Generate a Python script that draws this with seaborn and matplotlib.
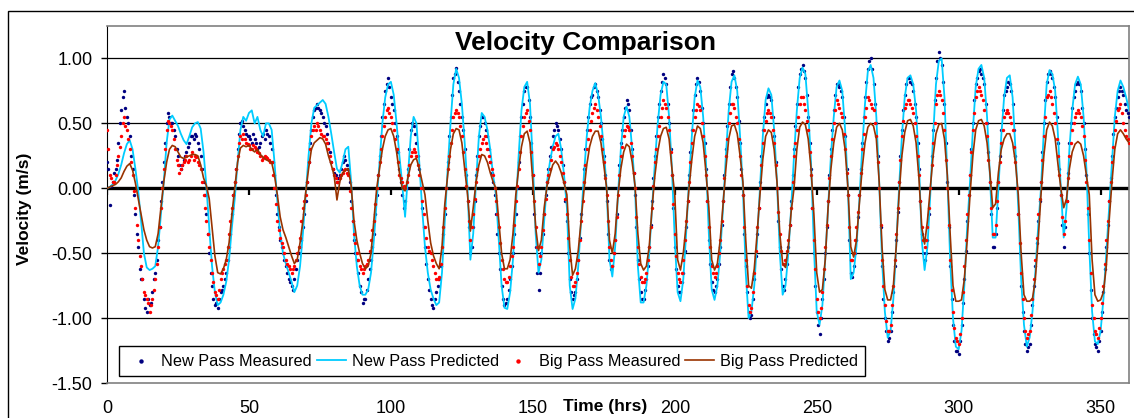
"""Velocity comparison: New Pass vs Big Pass, measured and predicted."""
import matplotlib
matplotlib.use("Agg")
import matplotlib.pyplot as plt
import numpy as np
import pandas as pd
import seaborn as sns
from matplotlib.patches import Rectangle

# hourly samples, 0..360 hrs; measured gauges also logged on the half hour
hours = list(range(0, 361))
half_hours = [h + 0.5 for h in range(0, 360)]

new_pass_measured = [
    0.20, -0.13, 0.05, 0.15, 0.35, 0.60, 0.75, 0.55, 0.40, 0.15,
    -0.20, -0.45, -0.70, -0.85, -0.95, -0.90, -0.80, -0.65, -0.40, -0.10,
    0.20, 0.50, 0.55, 0.50, 0.40, 0.25, 0.15, 0.22, 0.28, 0.35,
    0.40, 0.42, 0.35, 0.25, 0.05, -0.20, -0.50, -0.75, -0.90, -0.92,
    -0.80, -0.75, -0.65, -0.45, -0.20, 0.05, 0.30, 0.50, 0.48, 0.42,
    0.40, 0.35, 0.38, 0.30, 0.35, 0.42, 0.45, 0.40, 0.30, 0.10,
    -0.20, -0.40, -0.50, -0.60, -0.70, -0.75, -0.70, -0.55, -0.45, -0.30,
    -0.10, 0.20, 0.45, 0.60, 0.65, 0.60, 0.55, 0.48, 0.35, 0.20,
    0.12, 0.05, 0.10, 0.20, 0.22, 0.15, -0.10, -0.40, -0.55, -0.75,
    -0.88, -0.85, -0.70, -0.55, -0.35, -0.05, 0.25, 0.55, 0.75, 0.85,
    0.70, 0.60, 0.40, 0.15, -0.05, -0.10, 0.15, 0.45, 0.48, 0.35,
    0.15, -0.15, -0.45, -0.70, -0.85, -0.92, -0.80, -0.70, -0.50, -0.20,
    0.20, 0.55, 0.85, 0.93, 0.75, 0.55, 0.30, -0.10, -0.50, -0.30,
    0.10, 0.40, 0.55, 0.50, 0.40, 0.20, 0.05, -0.20, -0.50, -0.75,
    -0.90, -0.85, -0.70, -0.50, -0.20, 0.20, 0.55, 0.75, 0.78, 0.55,
    0.10, -0.45, -0.78, -0.50, -0.20, 0.05, 0.25, 0.40, 0.50, 0.45,
    0.30, 0.05, -0.25, -0.70, -0.85, -0.80, -0.55, -0.20, 0.15, 0.45,
    0.65, 0.72, 0.80, 0.70, 0.50, 0.25, -0.10, -0.55, -0.60, -0.40,
    0.00, 0.35, 0.55, 0.68, 0.60, 0.30, -0.05, -0.55, -0.80, -0.85,
    -0.70, -0.45, -0.10, 0.25, 0.55, 0.75, 0.88, 0.80, 0.50, 0.10,
    -0.45, -0.75, -0.80, -0.65, -0.30, 0.10, 0.45, 0.72, 0.85, 0.75,
    0.50, 0.15, -0.40, -0.72, -0.80, -0.70, -0.45, -0.10, 0.30, 0.65,
    0.88, 0.85, 0.70, 0.35, -0.05, -0.60, -0.95, -0.98, -0.70, -0.35,
    0.05, 0.45, 0.65, 0.72, 0.68, 0.40, 0.00, -0.45, -0.75, -0.70,
    -0.45, -0.10, 0.30, 0.65, 0.88, 0.95, 0.85, 0.55, 0.15, -0.50,
    -0.95, -1.12, -0.85, -0.50, -0.10, 0.30, 0.60, 0.80, 0.78, 0.70,
    0.40, -0.05, -0.65, -0.60, -0.40, -0.05, 0.35, 0.70, 0.92, 1.00,
    0.80, 0.50, 0.00, -0.60, -1.00, -1.18, -1.10, -0.80, -0.40, 0.05,
    0.45, 0.72, 0.85, 0.82, 0.75, 0.55, 0.15, -0.35, -0.55, -0.40,
    0.00, 0.45, 0.85, 1.05, 0.95, 0.65, 0.05, -0.60, -1.05, -1.25,
    -1.28, -1.05, -0.70, -0.25, 0.10, 0.50, 0.80, 0.90, 0.88, 0.80,
    0.50, 0.05, -0.45, -0.35, 0.05, 0.45, 0.72, 0.78, 0.80, 0.65,
    0.25, -0.20, -0.75, -1.10, -1.25, -1.20, -0.90, -0.60, -0.25, 0.05,
    0.50, 0.82, 0.90, 0.85, 0.70, 0.35, -0.05, -0.45, -0.10, 0.35,
    0.62, 0.75, 0.82, 0.75, 0.50, 0.10, -0.50, -1.00, -1.20, -1.25,
    -1.10, -0.80, -0.45, -0.10, 0.25, 0.55, 0.70, 0.78, 0.72, 0.60,
    0.55,
]

new_pass_measured_half = [
    0.15, 0.02, 0.12, 0.22, 0.50, 0.70, 0.62, 0.50, 0.25, -0.05,
    -0.35, -0.62, -0.70, -0.92, -0.85, -0.88, -0.70, -0.55, -0.30, 0.05,
    0.35, 0.58, 0.50, 0.45, 0.30, 0.18, 0.18, 0.25, 0.32, 0.40,
    0.38, 0.40, 0.30, 0.15, -0.05, -0.35, -0.65, -0.85, -0.88, -0.85,
    -0.78, -0.70, -0.55, -0.35, -0.05, 0.15, 0.42, 0.52, 0.45, 0.40,
    0.38, 0.42, 0.35, 0.32, 0.40, 0.38, 0.42, 0.35, 0.20, -0.05,
    -0.30, -0.45, -0.55, -0.65, -0.72, -0.78, -0.62, -0.50, -0.40, -0.20,
    0.05, 0.35, 0.55, 0.62, 0.62, 0.58, 0.50, 0.42, 0.28, 0.15,
    0.10, 0.08, 0.15, 0.25, 0.18, 0.05, -0.25, -0.50, -0.65, -0.80,
    -0.85, -0.78, -0.62, -0.45, -0.20, 0.10, 0.40, 0.65, 0.80, 0.78,
    0.65, 0.50, 0.28, 0.05, -0.15, 0.00, 0.30, 0.50, 0.42, 0.25,
    0.00, -0.30, -0.58, -0.78, -0.90, -0.85, -0.75, -0.60, -0.35, 0.00,
    0.40, 0.72, 0.88, 0.82, 0.65, 0.45, 0.10, -0.30, -0.45, -0.10,
    0.25, 0.48, 0.55, 0.45, 0.30, 0.12, -0.05, -0.35, -0.62, -0.85,
    -0.88, -0.78, -0.60, -0.35, 0.00, 0.40, 0.65, 0.78, 0.68, 0.35,
    -0.20, -0.65, -0.65, -0.35, -0.05, 0.15, 0.32, 0.45, 0.48, 0.38,
    0.18, -0.10, -0.50, -0.80, -0.82, -0.70, -0.38, 0.00, 0.30, 0.55,
    0.70, 0.78, 0.75, 0.60, 0.38, 0.10, -0.35, -0.62, -0.50, -0.20,
    0.18, 0.45, 0.62, 0.65, 0.45, 0.12, -0.30, -0.70, -0.85, -0.78,
    -0.60, -0.28, 0.08, 0.40, 0.65, 0.82, 0.85, 0.65, 0.30, -0.15,
    -0.62, -0.80, -0.72, -0.48, -0.10, 0.28, 0.60, 0.80, 0.82, 0.62,
    0.35, -0.10, -0.58, -0.78, -0.75, -0.58, -0.28, 0.10, 0.48, 0.78,
    0.90, 0.78, 0.52, 0.15, -0.35, -0.80, -1.00, -0.85, -0.52, -0.15,
    0.25, 0.55, 0.70, 0.70, 0.55, 0.20, -0.25, -0.62, -0.78, -0.58,
    -0.28, 0.10, 0.48, 0.78, 0.92, 0.90, 0.72, 0.35, -0.15, -0.75,
    -1.05, -1.00, -0.70, -0.30, 0.10, 0.45, 0.72, 0.80, 0.75, 0.55,
    0.15, -0.40, -0.68, -0.50, -0.22, 0.15, 0.55, 0.82, 0.98, 0.92,
    0.65, 0.25, -0.30, -0.85, -1.10, -1.15, -0.95, -0.60, -0.18, 0.25,
    0.60, 0.80, 0.85, 0.80, 0.65, 0.35, -0.10, -0.50, -0.50, -0.20,
    0.25, 0.68, 0.98, 1.00, 0.82, 0.35, -0.30, -0.85, -1.18, -1.25,
    -1.18, -0.88, -0.48, -0.05, 0.30, 0.68, 0.85, 0.92, 0.85, 0.65,
    0.28, -0.20, -0.45, -0.15, 0.25, 0.60, 0.75, 0.82, 0.75, 0.45,
    0.00, -0.50, -0.95, -1.20, -1.22, -1.05, -0.75, -0.42, -0.10, 0.28,
    0.68, 0.88, 0.88, 0.78, 0.55, 0.15, -0.28, -0.30, 0.12, 0.50,
    0.70, 0.80, 0.80, 0.62, 0.30, -0.20, -0.78, -1.12, -1.22, -1.18,
    -0.95, -0.62, -0.28, 0.08, 0.42, 0.62, 0.75, 0.75, 0.65, 0.58,
]

new_pass_predicted = [
    0.00, 0.01, 0.03, 0.06, 0.11, 0.18, 0.27, 0.34, 0.37, 0.30,
    0.15, -0.02, -0.25, -0.50, -0.61, -0.63, -0.62, -0.60, -0.45, -0.20,
    0.05, 0.35, 0.53, 0.56, 0.52, 0.48, 0.42, 0.37, 0.34, 0.40,
    0.47, 0.50, 0.51, 0.46, 0.28, 0.02, -0.30, -0.60, -0.80, -0.90,
    -0.88, -0.82, -0.72, -0.55, -0.30, -0.08, 0.20, 0.45, 0.55, 0.52,
    0.58, 0.60, 0.50, 0.55, 0.45, 0.40, 0.50, 0.50, 0.45, 0.20,
    -0.10, -0.35, -0.50, -0.58, -0.65, -0.72, -0.80, -0.75, -0.60, -0.35,
    -0.05, 0.25, 0.50, 0.62, 0.64, 0.66, 0.68, 0.65, 0.55, 0.42,
    0.28, 0.15, 0.12, 0.20, 0.30, 0.32, 0.05, -0.35, -0.60, -0.75,
    -0.82, -0.82, -0.78, -0.65, -0.40, -0.10, 0.20, 0.50, 0.70, 0.80,
    0.82, 0.72, 0.50, 0.25, 0.03, -0.22, 0.10, 0.40, 0.55, 0.50,
    0.20, -0.15, -0.45, -0.65, -0.78, -0.85, -0.90, -0.88, -0.65, -0.25,
    0.15, 0.50, 0.80, 0.92, 0.85, 0.65, 0.35, 0.00, -0.55, -0.35,
    0.05, 0.40, 0.58, 0.55, 0.45, 0.30, 0.10, -0.05, -0.40, -0.75,
    -0.92, -0.93, -0.80, -0.55, -0.15, 0.25, 0.60, 0.78, 0.82, 0.65,
    0.20, -0.35, -0.65, -0.55, -0.25, 0.05, 0.20, 0.32, 0.40, 0.42,
    0.30, 0.10, -0.15, -0.75, -0.93, -0.85, -0.60, -0.25, 0.10, 0.40,
    0.62, 0.75, 0.81, 0.72, 0.55, 0.30, 0.00, -0.55, -0.68, -0.45,
    -0.05, 0.30, 0.55, 0.63, 0.55, 0.30, 0.00, -0.60, -0.88, -0.88,
    -0.75, -0.50, -0.15, 0.20, 0.50, 0.72, 0.82, 0.80, 0.55, 0.15,
    -0.40, -0.80, -0.87, -0.70, -0.35, 0.05, 0.40, 0.70, 0.83, 0.78,
    0.55, 0.20, -0.35, -0.78, -0.86, -0.75, -0.50, -0.15, 0.25, 0.60,
    0.82, 0.87, 0.75, 0.40, 0.00, -0.65, -1.00, -0.95, -0.75, -0.40,
    0.00, 0.40, 0.68, 0.77, 0.72, 0.45, 0.05, -0.50, -0.82, -0.75,
    -0.50, -0.15, 0.25, 0.60, 0.85, 0.93, 0.88, 0.60, 0.20, -0.45,
    -0.95, -1.05, -0.90, -0.55, -0.15, 0.25, 0.55, 0.78, 0.83, 0.75,
    0.45, 0.00, -0.70, -0.65, -0.45, -0.10, 0.30, 0.65, 0.90, 0.95,
    0.85, 0.55, 0.05, -0.55, -0.95, -1.15, -1.10, -0.85, -0.45, 0.00,
    0.40, 0.70, 0.85, 0.87, 0.80, 0.60, 0.20, -0.40, -0.63, -0.45,
    -0.05, 0.40, 0.80, 0.98, 1.00, 0.70, 0.10, -0.55, -1.00, -1.22,
    -1.24, -1.10, -0.75, -0.30, 0.05, 0.45, 0.78, 0.92, 0.95, 0.85,
    0.55, 0.10, -0.38, -0.38, 0.00, 0.40, 0.70, 0.85, 0.87, 0.70,
    0.30, -0.15, -0.70, -1.05, -1.22, -1.15, -0.95, -0.65, -0.30, 0.00,
    0.45, 0.80, 0.91, 0.88, 0.75, 0.40, 0.00, -0.38, -0.15, 0.30,
    0.60, 0.80, 0.86, 0.80, 0.55, 0.15, -0.45, -0.95, -1.18, -1.20,
    -1.10, -0.85, -0.50, -0.15, 0.20, 0.55, 0.75, 0.83, 0.78, 0.70,
    0.60,
]

big_pass_measured = [
    0.45, 0.10, 0.05, 0.10, 0.25, 0.40, 0.55, 0.45, 0.30, 0.10,
    -0.15, -0.40, -0.60, -0.80, -0.85, -0.95, -0.85, -0.70, -0.45, -0.15,
    0.15, 0.45, 0.50, 0.45, 0.30, 0.18, 0.15, 0.20, 0.25, 0.22,
    0.28, 0.25, 0.20, 0.15, -0.05, -0.25, -0.45, -0.65, -0.80, -0.85,
    -0.70, -0.62, -0.55, -0.35, -0.15, 0.05, 0.25, 0.40, 0.42, 0.35,
    0.33, 0.30, 0.32, 0.28, 0.25, 0.23, 0.24, 0.22, 0.20, 0.00,
    -0.25, -0.38, -0.45, -0.55, -0.60, -0.65, -0.60, -0.50, -0.38, -0.15,
    -0.05, 0.20, 0.40, 0.48, 0.50, 0.45, 0.40, 0.38, 0.30, 0.20,
    0.10, 0.05, 0.08, 0.12, 0.15, 0.10, -0.15, -0.35, -0.50, -0.60,
    -0.65, -0.60, -0.55, -0.40, -0.25, 0.00, 0.20, 0.40, 0.55, 0.62,
    0.55, 0.45, 0.30, 0.10, 0.05, 0.00, 0.10, 0.25, 0.30, 0.25,
    0.10, -0.10, -0.30, -0.45, -0.50, -0.60, -0.70, -0.68, -0.45, -0.15,
    0.15, 0.35, 0.55, 0.60, 0.55, 0.40, 0.15, -0.10, -0.40, -0.20,
    0.05, 0.25, 0.35, 0.40, 0.30, 0.20, 0.10, -0.10, -0.30, -0.55,
    -0.70, -0.72, -0.60, -0.45, -0.10, 0.15, 0.40, 0.55, 0.60, 0.45,
    0.10, -0.30, -0.58, -0.45, -0.20, 0.05, 0.15, 0.30, 0.35, 0.30,
    0.20, 0.05, -0.20, -0.55, -0.75, -0.72, -0.55, -0.25, 0.05, 0.30,
    0.45, 0.58, 0.65, 0.55, 0.40, 0.20, -0.05, -0.45, -0.60, -0.40,
    -0.05, 0.25, 0.40, 0.48, 0.45, 0.25, 0.00, -0.45, -0.68, -0.72,
    -0.65, -0.45, -0.15, 0.20, 0.40, 0.55, 0.68, 0.62, 0.45, 0.10,
    -0.35, -0.65, -0.72, -0.55, -0.25, 0.05, 0.35, 0.55, 0.65, 0.60,
    0.40, 0.10, -0.30, -0.60, -0.68, -0.60, -0.40, -0.10, 0.25, 0.50,
    0.65, 0.62, 0.50, 0.25, -0.05, -0.55, -0.90, -0.92, -0.65, -0.30,
    0.00, 0.35, 0.52, 0.60, 0.55, 0.35, 0.00, -0.35, -0.58, -0.55,
    -0.40, -0.15, 0.25, 0.45, 0.65, 0.70, 0.60, 0.45, 0.10, -0.40,
    -0.85, -1.00, -0.80, -0.45, -0.10, 0.25, 0.50, 0.68, 0.62, 0.55,
    0.30, -0.05, -0.55, -0.50, -0.30, -0.05, 0.30, 0.55, 0.70, 0.65,
    0.60, 0.40, 0.00, -0.55, -0.90, -1.10, -1.05, -0.75, -0.35, 0.05,
    0.40, 0.62, 0.68, 0.65, 0.58, 0.40, 0.10, -0.30, -0.45, -0.30,
    0.00, 0.35, 0.65, 0.75, 0.68, 0.45, 0.00, -0.55, -0.95, -1.15,
    -1.20, -1.00, -0.60, -0.20, 0.10, 0.45, 0.70, 0.78, 0.72, 0.60,
    0.40, 0.05, -0.35, -0.28, 0.05, 0.35, 0.55, 0.60, 0.55, 0.45,
    0.20, -0.20, -0.65, -1.00, -1.15, -1.10, -0.85, -0.55, -0.20, 0.05,
    0.40, 0.70, 0.75, 0.65, 0.50, 0.25, -0.05, -0.35, -0.10, 0.25,
    0.45, 0.55, 0.60, 0.55, 0.40, 0.05, -0.40, -0.90, -1.10, -1.15,
    -1.00, -0.75, -0.40, -0.10, 0.20, 0.45, 0.60, 0.65, 0.50, 0.40,
    0.35,
]

big_pass_measured_half = [
    0.30, 0.08, 0.05, 0.18, 0.32, 0.50, 0.48, 0.38, 0.20, -0.02,
    -0.28, -0.52, -0.70, -0.82, -0.88, -0.90, -0.78, -0.58, -0.30, 0.00,
    0.30, 0.52, 0.48, 0.38, 0.22, 0.12, 0.18, 0.22, 0.20, 0.25,
    0.22, 0.24, 0.18, 0.05, -0.15, -0.35, -0.55, -0.72, -0.82, -0.78,
    -0.65, -0.58, -0.45, -0.25, -0.05, 0.15, 0.35, 0.38, 0.38, 0.34,
    0.30, 0.33, 0.30, 0.27, 0.22, 0.25, 0.23, 0.20, 0.10, -0.12,
    -0.32, -0.42, -0.50, -0.58, -0.62, -0.62, -0.55, -0.45, -0.25, -0.10,
    0.05, 0.30, 0.45, 0.45, 0.48, 0.42, 0.40, 0.35, 0.25, 0.15,
    0.08, 0.05, 0.10, 0.14, 0.12, -0.02, -0.25, -0.42, -0.55, -0.62,
    -0.62, -0.58, -0.48, -0.32, -0.12, 0.10, 0.30, 0.48, 0.60, 0.58,
    0.50, 0.38, 0.20, 0.08, 0.02, 0.05, 0.18, 0.28, 0.28, 0.18,
    0.00, -0.20, -0.38, -0.48, -0.55, -0.65, -0.70, -0.58, -0.30, 0.00,
    0.25, 0.45, 0.58, 0.58, 0.48, 0.28, 0.02, -0.25, -0.30, -0.08,
    0.15, 0.30, 0.38, 0.35, 0.25, 0.15, 0.00, -0.20, -0.42, -0.62,
    -0.72, -0.68, -0.52, -0.28, 0.02, 0.28, 0.48, 0.58, 0.52, 0.28,
    -0.10, -0.45, -0.52, -0.32, -0.08, 0.10, 0.22, 0.32, 0.33, 0.25,
    0.12, -0.08, -0.38, -0.68, -0.75, -0.65, -0.40, -0.10, 0.18, 0.38,
    0.52, 0.62, 0.60, 0.48, 0.30, 0.08, -0.25, -0.55, -0.50, -0.22,
    0.10, 0.32, 0.45, 0.47, 0.35, 0.12, -0.22, -0.58, -0.72, -0.70,
    -0.55, -0.30, 0.02, 0.30, 0.48, 0.62, 0.65, 0.55, 0.28, -0.12,
    -0.52, -0.70, -0.65, -0.40, -0.10, 0.20, 0.45, 0.60, 0.63, 0.50,
    0.25, -0.10, -0.45, -0.65, -0.65, -0.50, -0.25, 0.08, 0.38, 0.58,
    0.65, 0.55, 0.38, 0.10, -0.30, -0.75, -0.95, -0.80, -0.48, -0.15,
    0.18, 0.45, 0.58, 0.58, 0.45, 0.18, -0.18, -0.48, -0.58, -0.48,
    -0.28, 0.05, 0.35, 0.55, 0.70, 0.65, 0.52, 0.28, -0.15, -0.62,
    -0.95, -0.92, -0.62, -0.28, 0.08, 0.38, 0.60, 0.65, 0.58, 0.42,
    0.12, -0.30, -0.55, -0.40, -0.18, 0.12, 0.42, 0.62, 0.68, 0.62,
    0.50, 0.20, -0.28, -0.75, -1.02, -1.10, -0.90, -0.55, -0.15, 0.22,
    0.52, 0.65, 0.68, 0.62, 0.50, 0.25, -0.10, -0.40, -0.40, -0.15,
    0.18, 0.50, 0.72, 0.72, 0.58, 0.22, -0.28, -0.78, -1.08, -1.18,
    -1.12, -0.80, -0.40, -0.05, 0.28, 0.58, 0.75, 0.75, 0.68, 0.50,
    0.22, -0.15, -0.35, -0.10, 0.20, 0.45, 0.58, 0.58, 0.50, 0.32,
    0.00, -0.42, -0.85, -1.10, -1.12, -0.98, -0.70, -0.38, -0.08, 0.22,
    0.55, 0.72, 0.70, 0.58, 0.38, 0.10, -0.22, -0.25, 0.08, 0.35,
    0.50, 0.58, 0.58, 0.48, 0.22, -0.15, -0.65, -1.00, -1.12, -1.08,
    -0.88, -0.58, -0.25, 0.05, 0.32, 0.52, 0.62, 0.58, 0.45, 0.38,
]

big_pass_predicted = [
    0.00, 0.01, 0.02, 0.03, 0.05, 0.08, 0.13, 0.17, 0.19, 0.14,
    0.04, -0.08, -0.20, -0.32, -0.40, -0.45, -0.46, -0.45, -0.35, -0.15,
    0.05, 0.20, 0.30, 0.33, 0.32, 0.28, 0.24, 0.23, 0.24, 0.25,
    0.26, 0.26, 0.25, 0.18, 0.08, 0.02, -0.08, -0.30, -0.52, -0.65,
    -0.66, -0.62, -0.55, -0.42, -0.20, 0.00, 0.20, 0.31, 0.33, 0.32,
    0.33, 0.30, 0.28, 0.30, 0.26, 0.24, 0.22, 0.21, 0.20, 0.10,
    -0.05, -0.22, -0.32, -0.38, -0.45, -0.52, -0.58, -0.55, -0.42, -0.25,
    -0.03, 0.15, 0.30, 0.35, 0.37, 0.39, 0.38, 0.34, 0.25, 0.18,
    0.10, -0.09, 0.05, 0.12, 0.14, 0.15, 0.02, -0.25, -0.40, -0.50,
    -0.58, -0.62, -0.60, -0.50, -0.25, 0.00, 0.15, 0.30, 0.40, 0.45,
    0.46, 0.40, 0.28, 0.12, 0.00, -0.02, 0.08, 0.18, 0.22, 0.23,
    0.15, 0.05, -0.05, -0.25, -0.42, -0.52, -0.58, -0.62, -0.45, -0.12,
    0.10, 0.30, 0.42, 0.46, 0.45, 0.35, 0.15, -0.05, -0.33, -0.15,
    0.05, 0.18, 0.26, 0.25, 0.20, 0.12, 0.05, 0.00, -0.25, -0.50,
    -0.62, -0.62, -0.55, -0.35, -0.05, 0.15, 0.32, 0.42, 0.44, 0.35,
    0.05, -0.30, -0.48, -0.40, -0.15, 0.02, 0.10, 0.18, 0.21, 0.18,
    0.12, 0.04, -0.05, -0.45, -0.67, -0.62, -0.48, -0.25, -0.02, 0.18,
    0.32, 0.40, 0.44, 0.44, 0.35, 0.18, 0.00, -0.40, -0.50, -0.35,
    -0.05, 0.15, 0.28, 0.34, 0.32, 0.20, 0.02, -0.35, -0.58, -0.63,
    -0.60, -0.45, -0.15, 0.10, 0.28, 0.40, 0.46, 0.47, 0.38, 0.15,
    -0.05, -0.55, -0.63, -0.50, -0.28, 0.00, 0.22, 0.40, 0.48, 0.46,
    0.35, 0.12, -0.15, -0.55, -0.63, -0.58, -0.40, -0.12, 0.15, 0.38,
    0.48, 0.49, 0.42, 0.25, 0.05, -0.40, -0.75, -0.77, -0.62, -0.35,
    -0.05, 0.22, 0.40, 0.45, 0.43, 0.30, 0.05, -0.35, -0.58, -0.61,
    -0.45, -0.18, 0.00, 0.30, 0.47, 0.51, 0.49, 0.38, 0.15, -0.20,
    -0.65, -0.80, -0.78, -0.55, -0.15, 0.15, 0.35, 0.47, 0.50, 0.45,
    0.30, 0.00, -0.45, -0.53, -0.40, -0.12, 0.15, 0.35, 0.47, 0.50,
    0.48, 0.38, 0.05, -0.45, -0.78, -0.86, -0.86, -0.75, -0.45, -0.05,
    0.25, 0.43, 0.52, 0.53, 0.48, 0.35, 0.08, -0.30, -0.43, -0.25,
    0.00, 0.25, 0.42, 0.49, 0.50, 0.38, 0.10, -0.35, -0.75, -0.87,
    -0.87, -0.86, -0.70, -0.40, -0.05, 0.25, 0.45, 0.52, 0.53, 0.48,
    0.35, 0.12, -0.15, -0.12, 0.12, 0.30, 0.38, 0.42, 0.42, 0.35,
    0.20, -0.05, -0.50, -0.82, -0.87, -0.87, -0.85, -0.70, -0.40, -0.05,
    0.25, 0.45, 0.51, 0.48, 0.38, 0.18, 0.00, -0.15, -0.08, 0.15,
    0.28, 0.34, 0.36, 0.34, 0.25, 0.10, -0.05, -0.55, -0.82, -0.87,
    -0.86, -0.80, -0.60, -0.25, 0.05, 0.30, 0.42, 0.45, 0.42, 0.38,
    0.35,
]

x_ticks = [0, 50, 100, 150, 200, 250, 300, 350]
y_ticks = [-1.50, -1.00, -0.50, 0.00, 0.50, 1.00]

NAVY = "#000080"
SKY = "#00CCFF"
RED = "#FF0000"
BROWN = "#993300"

plt.rcParams["font.family"] = ["Liberation Sans", "DejaVu Sans"]

pred_df = pd.DataFrame({
    "hrs": hours,
    "np_pred": new_pass_predicted,
    "bp_pred": big_pass_predicted,
})
meas_df = pd.DataFrame({
    "hrs": hours + half_hours,
    "np_meas": new_pass_measured + new_pass_measured_half,
    "bp_meas": big_pass_measured + big_pass_measured_half,
})

fig = plt.figure(figsize=(11.34, 4.18), dpi=100)
ax = fig.add_axes([107 / 1134, 1 - 383 / 418, 1022 / 1134, 357 / 418])

# outer chart-area frame (cropped on the right/bottom)
fig.add_artist(Rectangle((8 / 1134, -0.1), 1.2, 1 - 11 / 418 + 0.1,
                         transform=fig.transFigure, fill=False,
                         edgecolor="black", lw=1.0))

for yv in [1.0, 0.5, -0.5, -1.0]:
    ax.axhline(yv, color="black", lw=0.9, zorder=1)
ax.axhline(0.0, color="black", lw=2.4, zorder=1)

sns.scatterplot(data=meas_df, x="hrs", y="np_meas", ax=ax, color=NAVY,
                s=6, linewidth=0, label="New Pass Measured", zorder=3)
sns.lineplot(data=pred_df, x="hrs", y="np_pred", ax=ax, color=SKY, lw=1.3,
             label="New Pass Predicted", zorder=4)
sns.scatterplot(data=meas_df, x="hrs", y="bp_meas", ax=ax, color=RED,
                s=6, linewidth=0, label="Big Pass Measured", zorder=5)
sns.lineplot(data=pred_df, x="hrs", y="bp_pred", ax=ax, color=BROWN, lw=1.2,
             label="Big Pass Predicted", zorder=6)

# small tick marks hanging off the zero line
ax.plot(x_ticks, [0] * len(x_ticks), ls="none", marker=3, ms=5, mew=1.6,
        color="black", zorder=2)

ax.set_xlim(0, 360)
ax.set_ylim(-1.5, 1.25)
ax.set_xticks(x_ticks)
ax.set_xticklabels([str(t) for t in x_ticks])
ax.set_yticks(y_ticks)
ax.set_yticklabels([f"{v:.2f}" for v in y_ticks])
ax.tick_params(axis="x", length=0, pad=12, labelsize=13)
ax.tick_params(axis="y", length=4.5, width=1, pad=6, labelsize=13)
ax.set_xlabel("")
ax.set_ylabel("")

for side in ["top", "right", "bottom"]:
    ax.spines[side].set_color("#808080")
    ax.spines[side].set_linewidth(1.2)
ax.spines["left"].set_color("black")

fig.text(585 / 1134, 1 - 43 / 418, "Velocity Comparison", ha="center",
         va="center", fontsize=19, fontweight="bold")
fig.text(25 / 1134, 1 - 209 / 418, "Velocity (m/s)", rotation=90,
         ha="center", va="center", fontsize=12.5, fontweight="bold")
fig.text(605 / 1134, 1 - 407 / 418, "Time (hrs)", ha="center",
         va="center", fontsize=12.5, fontweight="bold")

handles, labels = ax.get_legend_handles_labels()
leg = ax.legend(handles, labels, ncol=4, loc="lower left",
                bbox_to_anchor=(12 / 1022, 7 / 357), borderaxespad=0,
                fontsize=11.7, frameon=True, fancybox=False,
                edgecolor="black", framealpha=1, handlelength=1.8,
                handletextpad=0.35, columnspacing=0.3, borderpad=0.45,
                scatterpoints=1, markerscale=1.3)
leg.get_frame().set_linewidth(1.0)
leg.set_zorder(10)

fig.savefig("out.png", dpi=100)
plt.close(fig)
